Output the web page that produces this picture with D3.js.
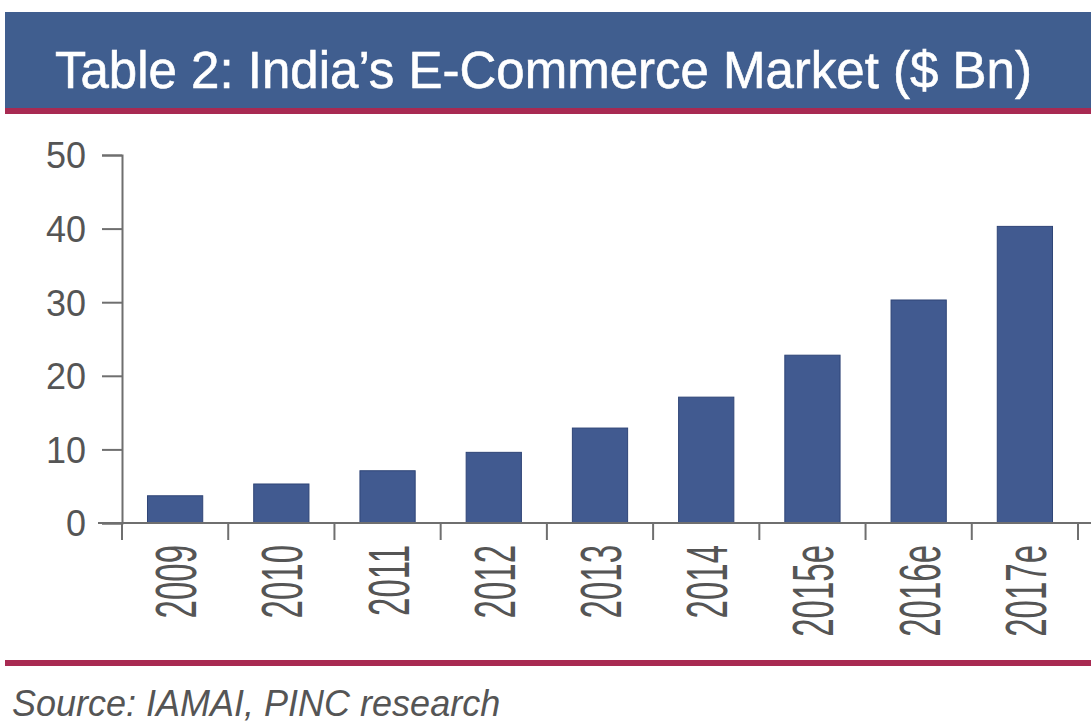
<!DOCTYPE html>
<html>
<head>
<meta charset="utf-8">
<script src="https://cdn.jsdelivr.net/npm/d3@7"></script>
<style>
  html, body { margin: 0; padding: 0; background: #ffffff; }
  svg { display: block; }
  text { font-family: "Liberation Sans", Arial, Helvetica, sans-serif; }
</style>
</head>
<body>
<svg id="chart" width="1091" height="727"></svg>
<script>
// India's e-commerce market size, $ Bn (e = estimate)
const years = ["2009", "2010", "2011", "2012", "2013", "2014", "2015e", "2016e", "2017e"];
const marketSize = [3.7, 5.3, 7.1, 9.6, 12.9, 17.1, 22.8, 30.3, 40.3];
const yTicks = [0, 10, 20, 30, 40, 50];

const titleText = "Table 2: India\u2019s E-Commerce Market ($ Bn)";
const sourceText = "Source: IAMAI, PINC research";

const svg = d3.select("#chart");
const W = 1091;

const headerBlue = "#405e8f";
const accentRed = "#a82a52";
const barFill = "#415a90";
const axisGrey = "#6f6f6f";
const textGrey = "#555555";

// Title banner
svg.append("rect").attr("x", 5).attr("y", 12).attr("width", W - 5).attr("height", 97)
  .attr("fill", headerBlue);
svg.append("rect").attr("x", 5).attr("y", 108).attr("width", W - 5).attr("height", 6)
  .attr("fill", accentRed);
svg.append("text").attr("x", 55).attr("y", 88)
  .attr("fill", "#ffffff").attr("font-size", 51)
  .attr("stroke", "#ffffff").attr("stroke-width", 0.6)
  .text(titleText);

// Scales
const x = d3.scaleBand().domain(years).range([122, 1078])
  .paddingInner(0.48).paddingOuter(0.24);
const y = d3.scaleLinear().domain([0, 50]).range([523, 155]);

// Bars
svg.append("g").selectAll("rect").data(years).join("rect")
  .attr("x", d => x(d))
  .attr("width", x.bandwidth())
  .attr("y", (d, i) => y(marketSize[i]))
  .attr("height", (d, i) => y(0) - y(marketSize[i]))
  .attr("fill", barFill)
  .attr("stroke", "#2f4577").attr("stroke-width", 1);

// Y axis
const yAxis = svg.append("g").attr("transform", "translate(122,0)")
  .call(d3.axisLeft(y).tickValues(yTicks).tickSize(20).tickSizeOuter(20).tickPadding(16));
yAxis.selectAll("path, line").attr("stroke", axisGrey).attr("stroke-width", 2);
yAxis.selectAll("text").attr("fill", textGrey).attr("font-size", 36)
  .attr("font-family", "'Liberation Sans', Arial, sans-serif")
  .attr("dy", "0.36em");

// X axis baseline
svg.append("line").attr("x1", 98).attr("x2", W).attr("y1", y(0)).attr("y2", y(0))
  .attr("stroke", axisGrey).attr("stroke-width", 2);

// Category boundary ticks
const step = x.step();
const boundaries = years.map(d => x(d) - x.paddingInner() * step / 2)
  .concat([x(years[years.length - 1]) + x.bandwidth() + x.paddingInner() * step / 2]);
svg.append("g").selectAll("line").data(boundaries).join("line")
  .attr("x1", d => d).attr("x2", d => d)
  .attr("y1", y(0)).attr("y2", y(0) + 17)
  .attr("stroke", axisGrey).attr("stroke-width", 2);

// Rotated category labels
const xAxis = svg.append("g").attr("transform", `translate(0,${y(0)})`)
  .call(d3.axisBottom(x).tickSize(0).tickPadding(0));
xAxis.select(".domain").remove();
xAxis.selectAll("text")
  .attr("fill", textGrey).attr("font-size", 33)
  .attr("font-family", "'Liberation Sans', Arial, sans-serif")
  .attr("text-anchor", "end")
  .attr("y", 0).attr("dy", 0)
  .attr("transform", "translate(0,22) scale(1.75,1) rotate(-90) translate(0,12)");

// Footer rule and source note
svg.append("rect").attr("x", 5).attr("y", 660).attr("width", W - 5).attr("height", 6)
  .attr("fill", accentRed);
svg.append("text").attr("x", 12).attr("y", 716)
  .attr("fill", textGrey).attr("font-size", 36).attr("font-style", "italic")
  .text(sourceText);
</script>
</body>
</html>
